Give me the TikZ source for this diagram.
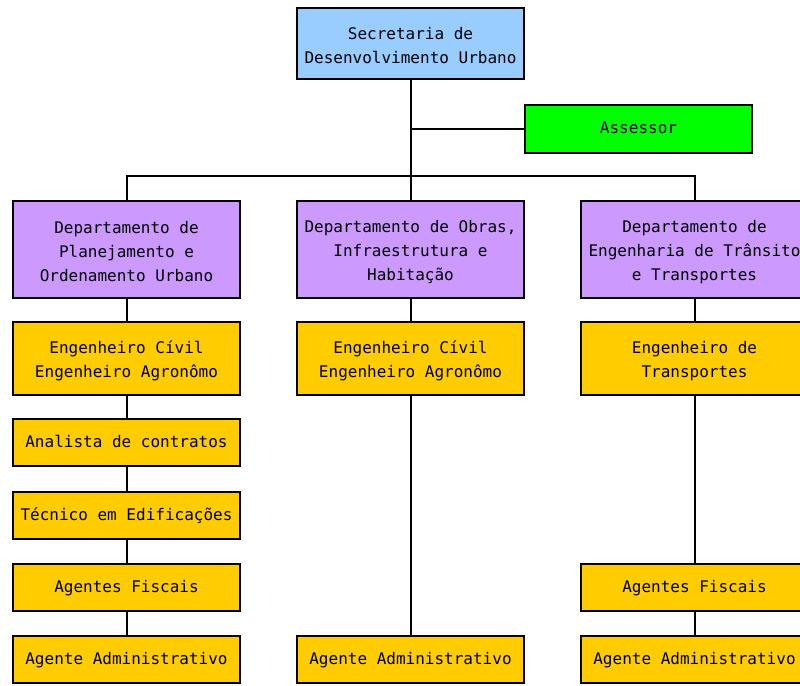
\documentclass[tikz,border=0pt]{standalone}
\usepackage{fontspec}
\setmonofont{DejaVu Sans Mono}
\begin{document}
\begin{tikzpicture}[x=1pt,y=-1pt,
  box/.style={draw=black,line width=2pt,minimum width=227pt,align=center,inner sep=0pt,
    font=\ttfamily\fontsize{16}{24}\selectfont,text=black},
  blue/.style={box,fill=blueA},
  green/.style={box,fill=greenA},
  purple/.style={box,fill=purpleA},
  yellow/.style={box,fill=yellowA},
  link/.style={line width=2pt,draw=black}]
\definecolor{blueA}{HTML}{99CCFF}
\definecolor{greenA}{HTML}{00FF00}
\definecolor{purpleA}{HTML}{CC99FF}
\definecolor{yellowA}{HTML}{FFCC00}
\useasboundingbox (0,0) rectangle (800,685);
\clip (0,0) rectangle (800,685);

\node[blue,minimum height=71pt] (secr) at (410.5,43.5) {\strut Secretaria de\\Desenvolvimento Urbano};
\node[green,minimum height=48pt] (ass) at (638.5,129) {\strut Assessor};

\node[purple,minimum height=97pt] (dl) at (126.5,249.5) {\strut Departamento de\\Planejamento e\\Ordenamento Urbano};
\node[purple,minimum height=97pt] (dm) at (410.5,249.5) {\strut Departamento de Obras,\\Infraestrutura e\\Habitação};
\node[purple,minimum height=97pt] (dr) at (694.5,249.5) {\strut Departamento de\\Engenharia de Trânsito\\e Transportes};

\node[yellow,minimum height=73pt] (el) at (126.5,358.5) {\strut Engenheiro Cívil\\Engenheiro Agronômo};
\node[yellow,minimum height=73pt] (em) at (410.5,358.5) {\strut Engenheiro Cívil\\Engenheiro Agronômo};
\node[yellow,minimum height=73pt] (er) at (694.5,358.5) {\strut Engenheiro de\\Transportes};

\node[yellow,minimum height=47pt] (an) at (126.5,442.5) {\strut Analista de contratos};
\node[yellow,minimum height=47pt] (te) at (126.5,515.5) {\strut Técnico em Edificações};
\node[yellow,minimum height=47pt] (fl) at (126.5,587.5) {\strut Agentes Fiscais};
\node[yellow,minimum height=47pt] (fr) at (694.5,587.5) {\strut Agentes Fiscais};
\node[yellow,minimum height=47pt] (al) at (126.5,659.5) {\strut Agente Administrativo};
\node[yellow,minimum height=47pt] (am) at (410.5,659.5) {\strut Agente Administrativo};
\node[yellow,minimum height=47pt] (ar) at (694.5,659.5) {\strut Agente Administrativo};

\coordinate (bus) at (410.5,176);
\draw[link] (secr.south) -- (dm.north);
\draw[link] (secr.south |- ass.west) -- (ass.west);
\draw[link] (dl.north) |- (bus) -| (dr.north);
\draw[link] (dl.south) -- (el.north);
\draw[link] (el.south) -- (an.north);
\draw[link] (an.south) -- (te.north);
\draw[link] (te.south) -- (fl.north);
\draw[link] (fl.south) -- (al.north);
\draw[link] (dm.south) -- (em.north);
\draw[link] (em.south) -- (am.north);
\draw[link] (dr.south) -- (er.north);
\draw[link] (er.south) -- (fr.north);
\draw[link] (fr.south) -- (ar.north);
\end{tikzpicture}
\end{document}
